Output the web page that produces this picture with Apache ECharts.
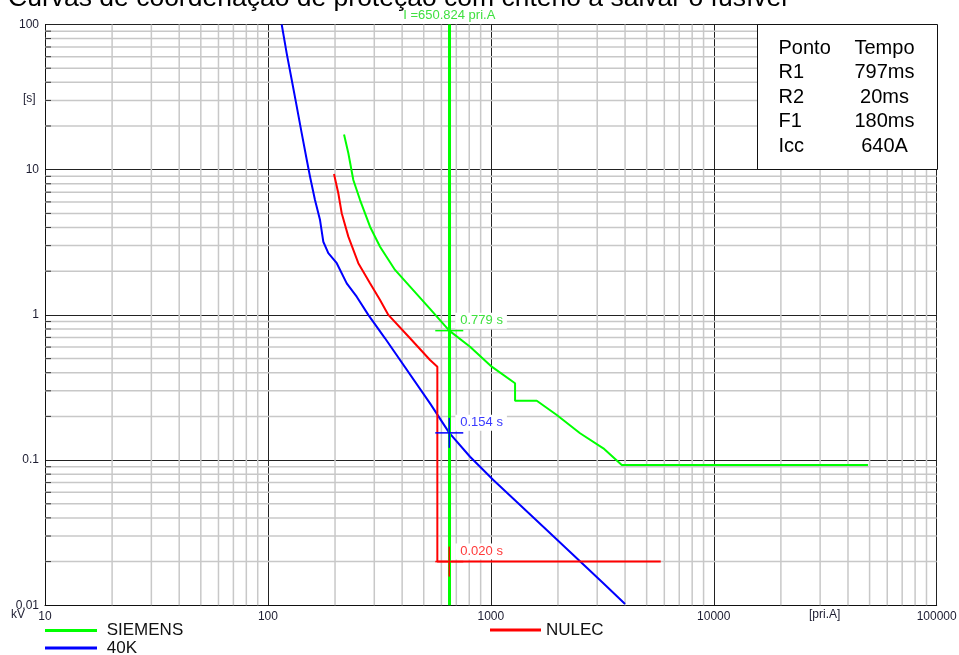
<!DOCTYPE html>
<html>
<head>
<meta charset="utf-8">
<script src="https://cdn.jsdelivr.net/npm/echarts@6/dist/echarts.min.js"></script>
<style>
  html, body { margin: 0; padding: 0; background: #fff; }
  #chart { width: 959px; height: 655px; }
</style>
</head>
<body>
<div id="chart"></div>
<script>
// Time-current curves: primary current (A) against operating time (s)
const siemensI = [219.5, 229.5, 241.6, 259.0, 287.1, 318.4, 371.7, 434.1, 533.6, 650.824, 806.6, 1009, 1284, 1284, 1607, 1976, 2513, 3196, 3866, 49220];
const siemensT = [17.5, 12.97, 8.50, 6.18, 4.05, 2.95, 2.04, 1.564, 1.10, 0.779, 0.604, 0.44, 0.338, 0.2565, 0.2565, 0.2045, 0.153, 0.1206, 0.0925, 0.0925];

const fortyKI = [115.3, 121.4, 127.9, 134.7, 141.8, 149.4, 154.5, 162.6, 171.3, 177.2, 186.6, 203.6, 225.7, 250.2, 282.0, 335.2, 533.6, 650.824, 806.6, 1026, 1352, 1781, 2429, 3196, 4000];
const fortyKT = [100, 63.3, 41.5, 27.2, 17.8, 11.66, 8.95, 6.18, 4.50, 3.19, 2.66, 2.27, 1.65, 1.335, 1.0, 0.690, 0.246, 0.154, 0.1055, 0.0729, 0.0491, 0.0330, 0.0211, 0.01418, 0.0102];

const nulecI = [197.9, 206.9, 214.3, 229.5, 254.4, 287.1, 318.4, 346.9, 434.1, 533.6, 575.4, 575.4, 5783];
const nulecT = [9.34, 6.88, 5.01, 3.46, 2.27, 1.65, 1.266, 1.0, 0.690, 0.489, 0.44, 0.020, 0.020];

// Cursor current and the times read on each curve
const cursorI = 650.824;
const cursorTimes = [0.779, 0.154, 0.020];

// Axis ranges and tick labels
const xRange = [10, 100000];
const yRange = [0.01, 100];
const xTickLabels = ['10', '100', '1000', '10000', '100000'];
const yTickLabels = ['0.01', '0.1', '1', '10', '100'];

// Summary table
const tableHead = ['Ponto', 'Tempo'];
const tablePoints = ['R1', 'R2', 'F1', 'Icc'];
const tableTimes = ['797ms', '20ms', '180ms', '640A'];

const colors = { SIEMENS: '#00ff00', '40K': '#0000ff', NULEC: '#ff0000' };
const cursorColors = ['#00ff00', '#0000ff', '#ff0000'];
const cursorTextColors = ['#3fe03f', '#3a3aff', '#ff3a3a'];
const FONT = 'Arial, "Liberation Sans", sans-serif';

// Minor decade subdivisions (2..9 of each decade)
const minorX = [];
for (let e = 1; e < 5; e++) for (let k = 2; k <= 9; k++) minorX.push(+(k * Math.pow(10, e)).toPrecision(4));
const minorY = [];
for (let e = -2; e < 2; e++) for (let k = 2; k <= 9; k++) minorY.push(+(k * Math.pow(10, e)).toPrecision(4));

const zip = (a, b) => a.map((v, i) => [v, b[i]]);
const labelFor = (list, firstExp) => (v) => {
  const e = Math.round(Math.log10(v));
  return list[e - firstExp] !== undefined ? list[e - firstExp] : String(v);
};

const legendItem = (name, left, top, extra) => Object.assign({
  data: [name], left: left, top: top, padding: 0,
  icon: 'rect', itemWidth: 52, itemHeight: 3,
  textStyle: { fontFamily: FONT, fontSize: 17, color: '#111' },
  selectedMode: false
}, extra || {});

const chart = echarts.init(document.getElementById('chart'), null, { renderer: 'canvas' });

const option = {
  animation: false,
  backgroundColor: '#fff',
  title: {
    text: 'Curvas de coordenação de proteção com critério a salvar o fusível',
    left: 8,
    top: -15,
    padding: 0,
    textStyle: { fontFamily: FONT, fontSize: 26.5, fontWeight: 'normal', color: '#000' }
  },
  grid: { left: 45, right: 22.3, top: 24.5, bottom: 49.7, containLabel: false, outerBoundsMode: 'none' },
  legend: [
    legendItem('SIEMENS', 45, 622, { formatter: (n) => ' ' + n }),
    legendItem('40K', 45, 639.5, { formatter: (n) => ' ' + n }),
    legendItem('NULEC', 490, 621.5, { itemWidth: 51 })
  ],
  xAxis: {
    type: 'log', logBase: 10, min: xRange[0], max: xRange[1],
    axisLine: { show: true, lineStyle: { color: '#111', width: 1 } },
    axisTick: { show: false },
    axisLabel: { formatter: labelFor(xTickLabels, 1), fontFamily: FONT, fontSize: 12, color: '#1c1c30', margin: 5 },
    splitLine: { show: true, lineStyle: { color: '#222', width: 1 } }
  },
  yAxis: {
    type: 'log', logBase: 10, min: yRange[0], max: yRange[1],
    axisLine: { show: true, lineStyle: { color: '#111', width: 1 } },
    axisTick: { show: false },
    axisLabel: { formatter: labelFor(yTickLabels, -2), fontFamily: FONT, fontSize: 12, color: '#1c1c30', margin: 6 },
    splitLine: { show: true, lineStyle: { color: '#222', width: 1 } }
  },
  series: [
    // minor vertical grid lines
    {
      type: 'custom', silent: true, z: 1,
      data: minorX.map(v => [v, 1]),
      renderItem: (params, api) => {
        const a = api.coord([api.value(0), yRange[0]]);
        const b = api.coord([api.value(0), yRange[1]]);
        return { type: 'line', shape: { x1: a[0], y1: a[1], x2: b[0], y2: b[1] },
                 style: { stroke: '#c8c8c8', lineWidth: 1.5 } };
      }
    },
    // minor horizontal grid lines with short ticks on the time axis
    {
      type: 'custom', silent: true, z: 1,
      data: minorY.map(v => [10, v]),
      renderItem: (params, api) => {
        const a = api.coord([xRange[0], api.value(1)]);
        const b = api.coord([xRange[1], api.value(1)]);
        return { type: 'group', children: [
          { type: 'line', shape: { x1: a[0], y1: a[1], x2: b[0], y2: b[1] },
            style: { stroke: '#c8c8c8', lineWidth: 1.5 } },
          { type: 'line', shape: { x1: a[0], y1: a[1], x2: a[0] + 6, y2: a[1] },
            style: { stroke: '#333', lineWidth: 1 } }
        ] };
      }
    },
    {
      name: 'SIEMENS', type: 'line', z: 3, showSymbol: false, symbol: 'none',
      data: zip(siemensI, siemensT),
      color: colors.SIEMENS,
      lineStyle: { color: colors.SIEMENS, width: 2 },
      markLine: {
        silent: true, symbol: 'none', animation: false,
        lineStyle: { color: '#00ff00', width: 3, type: 'solid' },
        label: {
          show: true, position: 'end',
          formatter: 'I =' + cursorI.toFixed(3) + ' pri.A',
          fontFamily: FONT, fontSize: 13, color: '#3fe03f',
          backgroundColor: '#fff', padding: [1, 4], distance: 2
        },
        emphasis: { disabled: true },
        data: [{ xAxis: cursorI }]
      }
    },
    {
      name: '40K', type: 'line', z: 3, showSymbol: false, symbol: 'none',
      data: zip(fortyKI, fortyKT),
      color: colors['40K'],
      lineStyle: { color: colors['40K'], width: 2 }
    },
    {
      name: 'NULEC', type: 'line', z: 3, showSymbol: false, symbol: 'none',
      data: zip(nulecI, nulecT),
      color: colors.NULEC,
      lineStyle: { color: colors.NULEC, width: 2 }
    },
    // cursor crosshairs and time readouts
    {
      type: 'custom', silent: true, z: 6, clip: false,
      data: cursorTimes.map(t => [cursorI, t]),
      renderItem: (params, api) => {
        const i = params.dataIndex;
        const p = api.coord([api.value(0), api.value(1)]);
        const c = cursorColors[i];
        return { type: 'group', children: [
          { type: 'line', shape: { x1: p[0] - 14, y1: p[1], x2: p[0] + 14, y2: p[1] }, style: { stroke: c, lineWidth: 1.5 } },
          { type: 'line', shape: { x1: p[0], y1: p[1] - 15, x2: p[0], y2: p[1] + 15 }, style: { stroke: c, lineWidth: 1.5 } },
          { type: 'text', x: p[0] + 6, y: p[1] - 10,
            style: { text: api.value(1).toFixed(3) + ' s', fill: cursorTextColors[i],
                     font: '13px ' + FONT, backgroundColor: '#fff', padding: [2, 4, 1, 5],
                     verticalAlign: 'middle', align: 'left' } }
        ] };
      }
    }
  ],
  graphic: [
    { type: 'text', left: 23, top: 93, style: { text: '[s]', font: '12px ' + FONT, fill: '#1c1c30' } },
    { type: 'text', left: 11, top: 609, style: { text: 'kV', font: '12px ' + FONT, fill: '#1c1c30' } },
    { type: 'text', left: 809, top: 609, style: { text: '[pri.A]', font: '12px ' + FONT, fill: '#1c1c30' } },
    {
      type: 'group', left: 757, top: 24, z: 100,
      children: [
        { type: 'rect', z: 100, shape: { x: 0, y: 0, width: 180, height: 145 }, style: { fill: '#fff', stroke: '#111', lineWidth: 1 } },
        { type: 'text', z: 101, x: 21, y: 23.5, style: { text: tableHead[0], font: '20px ' + FONT, fill: '#000', verticalAlign: 'middle' } },
        { type: 'text', z: 101, x: 127, y: 23.5, style: { text: tableHead[1], font: '20px ' + FONT, fill: '#000', verticalAlign: 'middle', align: 'center' } }
      ].concat(tablePoints.map((p, i) => (
        { type: 'text', z: 101, x: 21, y: 48 + i * 24.5, style: { text: p, font: '20px ' + FONT, fill: '#000', verticalAlign: 'middle' } }
      ))).concat(tableTimes.map((t, i) => (
        { type: 'text', z: 101, x: 127, y: 48 + i * 24.5, style: { text: t, font: '20px ' + FONT, fill: '#000', verticalAlign: 'middle', align: 'center' } }
      )))
    }
  ]
};

chart.setOption(option);
</script>
</body>
</html>
